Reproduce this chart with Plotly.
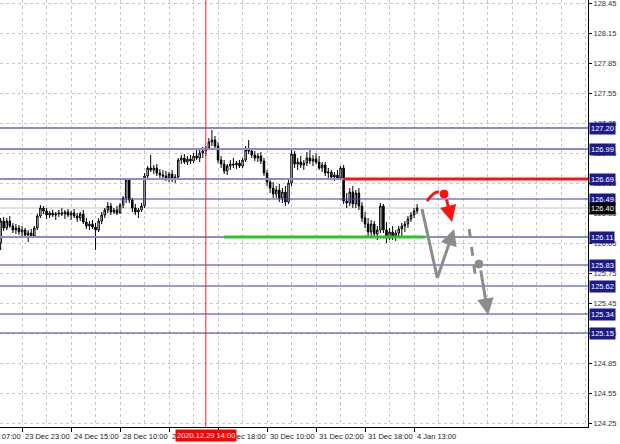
import plotly.graph_objects as go

# ---------------- data ----------------
first_bar = 9
opens = [126.05, 126.27, 126.20, 126.27, 126.22, 126.18, 126.20, 126.16, 126.18, 126.13,
         126.15, 126.12, 126.20, 126.32, 126.40, 126.37, 126.33, 126.35, 126.33, 126.34,
         126.35, 126.34, 126.36, 126.33, 126.35, 126.32, 126.30, 126.34, 126.26, 126.22,
         126.24, 126.21, 126.18, 126.27, 126.33, 126.38, 126.42, 126.36, 126.38, 126.35,
         126.43, 126.50, 126.68, 126.48, 126.40, 126.36, 126.38, 126.42, 126.72, 126.80,
         126.78, 126.80, 126.75, 126.73, 126.72, 126.70, 126.74, 126.69, 126.71, 126.88,
         126.90, 126.86, 126.89, 126.87, 126.92, 126.90, 126.95, 126.97, 127.00, 127.06,
         127.08, 127.02, 126.88, 126.84, 126.77, 126.82, 126.84, 126.83, 126.85, 126.82,
         126.88, 126.98, 126.97, 126.93, 126.90, 126.92, 126.87, 126.75, 126.66, 126.60,
         126.54, 126.58, 126.50, 126.56, 126.46, 126.65, 126.94, 126.84, 126.86, 126.83,
         126.85, 126.90, 126.87, 126.89, 126.86, 126.80, 126.83, 126.75, 126.76, 126.71,
         126.73, 126.70, 126.80, 126.47, 126.45, 126.56, 126.44, 126.55, 126.42, 126.30,
         126.24, 126.16, 126.24, 126.14, 126.18, 126.42, 126.18, 126.10, 126.16, 126.12,
         126.15, 126.19, 126.22, 126.24, 126.29, 126.33, 126.37]
highs = [126.30, 126.31, 126.30, 126.32, 126.25, 126.24, 126.23, 126.22, 126.20, 126.18,
         126.19, 126.22, 126.34, 126.43, 126.42, 126.40, 126.37, 126.38, 126.36, 126.38,
         126.40, 126.38, 126.39, 126.37, 126.39, 126.35, 126.36, 126.38, 126.30, 126.27,
         126.28, 126.25, 126.30, 126.36, 126.40, 126.46, 126.45, 126.40, 126.42, 126.45,
         126.52, 126.70, 126.70, 126.50, 126.44, 126.40, 126.45, 126.75, 126.82, 126.93,
         126.83, 126.84, 126.79, 126.78, 126.77, 126.76, 126.78, 126.74, 126.90, 126.93,
         126.94, 126.92, 126.93, 126.95, 127.00, 126.98, 127.01, 127.02, 127.10, 127.18,
         127.12, 127.06, 126.92, 126.88, 126.84, 126.88, 126.90, 126.87, 126.88, 126.90,
         127.02, 127.08, 127.00, 126.97, 126.95, 126.96, 126.90, 126.78, 126.70, 126.66,
         126.62, 126.64, 126.60, 126.62, 126.70, 126.98, 126.97, 126.90, 126.92, 126.88,
         126.96, 126.98, 126.93, 126.95, 126.92, 126.86, 126.86, 126.80, 126.78, 126.76,
         126.78, 126.82, 126.83, 126.55, 126.60, 126.62, 126.58, 126.60, 126.46, 126.36,
         126.30, 126.28, 126.27, 126.22, 126.45, 126.44, 126.26, 126.20, 126.22, 126.18,
         126.22, 126.25, 126.27, 126.32, 126.36, 126.40, 126.44]
lows = [125.98, 126.17, 126.18, 126.20, 126.15, 126.14, 126.13, 126.12, 126.10, 126.06,
        126.10, 126.10, 126.18, 126.30, 126.34, 126.29, 126.30, 126.31, 126.28, 126.31,
        126.32, 126.29, 126.31, 126.28, 126.30, 126.26, 126.27, 126.24, 126.19, 126.18,
        126.19, 125.98, 126.16, 126.24, 126.30, 126.35, 126.33, 126.34, 126.33, 126.34,
        126.40, 126.45, 126.45, 126.36, 126.33, 126.30, 126.36, 126.40, 126.70, 126.76,
        126.74, 126.72, 126.70, 126.68, 126.67, 126.66, 126.66, 126.65, 126.70, 126.84,
        126.84, 126.83, 126.84, 126.85, 126.88, 126.86, 126.90, 126.92, 126.98, 127.02,
        126.98, 126.85, 126.80, 126.74, 126.73, 126.78, 126.80, 126.79, 126.80, 126.80,
        126.86, 126.94, 126.90, 126.87, 126.86, 126.84, 126.72, 126.62, 126.55, 126.50,
        126.50, 126.46, 126.45, 126.42, 126.44, 126.62, 126.80, 126.78, 126.80, 126.78,
        126.82, 126.84, 126.82, 126.84, 126.78, 126.76, 126.72, 126.70, 126.68, 126.67,
        126.68, 126.69, 126.44, 126.40, 126.42, 126.40, 126.40, 126.38, 126.26, 126.20,
        126.12, 126.12, 126.10, 126.08, 126.15, 126.15, 126.05, 126.08, 126.08, 126.07,
        126.10, 126.12, 126.16, 126.20, 126.26, 126.30, 126.34]
closes = [126.27, 126.20, 126.27, 126.22, 126.18, 126.20, 126.16, 126.18, 126.13, 126.15,
          126.12, 126.20, 126.32, 126.40, 126.37, 126.33, 126.35, 126.33, 126.34, 126.35,
          126.34, 126.36, 126.33, 126.35, 126.32, 126.30, 126.34, 126.26, 126.22, 126.24,
          126.21, 126.18, 126.27, 126.33, 126.38, 126.42, 126.36, 126.38, 126.35, 126.43,
          126.50, 126.68, 126.48, 126.40, 126.36, 126.38, 126.42, 126.72, 126.80, 126.78,
          126.80, 126.75, 126.73, 126.72, 126.70, 126.74, 126.69, 126.71, 126.88, 126.90,
          126.86, 126.89, 126.87, 126.92, 126.90, 126.95, 126.97, 127.00, 127.06, 127.08,
          127.02, 126.88, 126.84, 126.77, 126.82, 126.84, 126.83, 126.85, 126.82, 126.88,
          126.98, 126.97, 126.93, 126.90, 126.92, 126.87, 126.75, 126.66, 126.60, 126.54,
          126.58, 126.50, 126.56, 126.46, 126.65, 126.94, 126.84, 126.86, 126.83, 126.85,
          126.90, 126.87, 126.89, 126.86, 126.80, 126.83, 126.75, 126.76, 126.71, 126.73,
          126.70, 126.80, 126.47, 126.45, 126.56, 126.44, 126.55, 126.42, 126.30, 126.24,
          126.16, 126.24, 126.14, 126.18, 126.42, 126.18, 126.10, 126.16, 126.12, 126.15,
          126.19, 126.22, 126.24, 126.29, 126.33, 126.37, 126.40]
bars = list(range(first_bar, first_bar + len(closes)))

x_tick_bars = [0, 16, 32, 48, 64, 80, 96, 112, 128, 144]
x_tick_labels = ["23 Dec 07:00", "23 Dec 23:00", "24 Dec 15:00", "28 Dec 10:00",
                 "29 Dec 02:00", "29 Dec 18:00", "30 Dec 10:00", "31 Dec 02:00",
                 "31 Dec 18:00", "4 Jan 13:00"]
y_tick_values = [124.25, 124.55, 124.85, 125.15, 125.45, 125.75, 126.05, 126.35,
                 126.65, 126.95, 127.25, 127.55, 127.85, 128.15, 128.45]
y_tick_labels = ["124.25", "124.55", "124.85", "125.15", "125.45", "125.75", "126.05",
                 "126.35", "126.65", "126.95", "127.25", "127.55", "127.85", "128.15",
                 "128.45"]

level_prices = [127.20, 126.99, 126.69, 126.49, 126.11, 125.83, 125.62, 125.34, 125.15]
level_labels = ["127.20", "126.99", "126.69", "126.49", "126.11", "125.83", "125.62",
                "125.34", "125.15"]
soft_levels = [127.20, 126.99, 126.69, 126.11]
current_price = 126.40
current_label = "126.40"

marker_bar = 76
marker_label = "2020.12.29 14:00"

resistance_price = 126.69
resistance_start = 121
support_price = 126.11
support_start = 82
support_end = 147.6

# forecast sketch (bar, price)
red_curve = [(148.2, 126.47), (150.6, 126.57), (152.1, 126.56)]
red_dot = (153.8, 126.54)
red_arrow = [(154.5, 126.50), (156.4, 126.26)]
grey_leg = [(146.6, 126.39), (151.6, 125.70)]
grey_arrow = [(151.6, 125.70), (157.1, 126.19)]
grey_dash = [(162.0, 126.19), (164.1, 125.70)]
grey_dot = (165.2, 125.84)
grey_arrow2 = [(165.7, 125.79), (168.2, 125.33)]

x_range = [8.8, 200.8]
y_range = [124.21, 128.48]

# ---------------- figure ----------------
FONT = "Liberation Sans, Arial, sans-serif"
fig = go.Figure()
fig.add_trace(go.Candlestick(
    x=bars, open=opens, high=highs, low=lows, close=closes,
    increasing=dict(line=dict(color="black", width=1), fillcolor="white"),
    decreasing=dict(line=dict(color="black", width=1), fillcolor="black"),
    whiskerwidth=0, showlegend=False, hoverinfo="skip"))

shapes = []
shapes.append(dict(type="line", xref="paper", x0=0, x1=1, yref="y",
                   y0=current_price, y1=current_price,
                   line=dict(color="#c4c4c4", width=1), layer="below"))
for p in level_prices:
    soft = p in soft_levels
    shapes.append(dict(type="line", xref="paper", x0=0, x1=1, yref="y", y0=p, y1=p,
                       line=dict(color="#8a8ad0" if soft else "#3a3aa8",
                                 width=2 if soft else 1)))
shapes.append(dict(type="line", xref="x", x0=marker_bar, x1=marker_bar, yref="paper",
                   y0=0, y1=1, line=dict(color="#ff2020", width=1)))
shapes.append(dict(type="line", xref="x", x0=resistance_start, x1=x_range[1], yref="y",
                   y0=resistance_price, y1=resistance_price,
                   line=dict(color="#ff1010", width=3)))
shapes.append(dict(type="line", xref="x", x0=support_start, x1=support_end, yref="y",
                   y0=support_price, y1=support_price,
                   line=dict(color="#2ec02e", width=3)))
(cx0, cy0), (cx1, cy1), (cx2, cy2) = red_curve
shapes.append(dict(type="path", xref="x", yref="y",
                   path=f"M {cx0},{cy0} Q {cx1},{cy1} {cx2},{cy2}",
                   line=dict(color="#ff1010", width=3)))
dxr = 1.3
dyr = 0.04
shapes.append(dict(type="circle", xref="x", yref="y",
                   x0=red_dot[0] - dxr, x1=red_dot[0] + dxr,
                   y0=red_dot[1] - dyr, y1=red_dot[1] + dyr,
                   fillcolor="#ff1010", line=dict(color="#ff1010", width=1)))
shapes.append(dict(type="circle", xref="x", yref="y",
                   x0=grey_dot[0] - dxr, x1=grey_dot[0] + dxr,
                   y0=grey_dot[1] - dyr, y1=grey_dot[1] + dyr,
                   fillcolor="#8c8c8c", line=dict(color="#8c8c8c", width=1)))
shapes.append(dict(type="line", xref="x", yref="y",
                   x0=grey_leg[0][0], y0=grey_leg[0][1], x1=grey_leg[1][0], y1=grey_leg[1][1],
                   line=dict(color="#8c8c8c", width=3)))
shapes.append(dict(type="line", xref="x", yref="y",
                   x0=grey_dash[0][0], y0=grey_dash[0][1], x1=grey_dash[1][0], y1=grey_dash[1][1],
                   line=dict(color="#8c8c8c", width=3, dash="dash")))

annotations = []
def arrow(seg, color):
    (tx, ty), (hx, hy) = seg
    return dict(x=hx, y=hy, ax=tx, ay=ty, xref="x", yref="y", axref="x", ayref="y",
                text="", showarrow=True, arrowhead=2, arrowsize=1.1, arrowwidth=3,
                arrowcolor=color)
annotations.append(arrow(red_arrow, "#ff1010"))
annotations.append(arrow(grey_arrow, "#8c8c8c"))
annotations.append(arrow(grey_arrow2, "#8c8c8c"))

span = x_range[1] - x_range[0]
for b, t in zip(x_tick_bars, x_tick_labels):
    annotations.append(dict(x=(b - x_range[0]) / span, xref="paper", y=0, yref="paper",
                            xanchor="left", yanchor="top", yshift=-3, xshift=1,
                            text=t, showarrow=False,
                            font=dict(family=FONT, size=7.5, color="#222")))
annotations.append(dict(x=marker_bar, xref="x", y=0, yref="paper", xanchor="center",
                        yanchor="top", yshift=-2, text=marker_label, showarrow=False,
                        bgcolor="#ff0000", borderpad=1,
                        font=dict(family=FONT, size=7.5, color="white")))
for p, t in zip(level_prices, level_labels):
    annotations.append(dict(x=1, xref="paper", y=p, yref="y", xanchor="left",
                            xshift=1, text=t, showarrow=False, bgcolor="#1a1a8c",
                            borderpad=1, font=dict(family=FONT, size=7.5, color="white")))
annotations.append(dict(x=1, xref="paper", y=current_price, yref="y", xanchor="left",
                        xshift=1, text=current_label, showarrow=False, bgcolor="#000000",
                        borderpad=1, font=dict(family=FONT, size=7.5, color="white")))

fig.update_layout(
    width=620, height=444,
    margin=dict(l=0, r=32, t=0, b=17, autoexpand=False),
    paper_bgcolor="white", plot_bgcolor="white",
    showlegend=False,
    shapes=shapes, annotations=annotations,
    xaxis=dict(range=x_range, rangeslider=dict(visible=False),
               tickmode="array", tickvals=x_tick_bars, showticklabels=False,
               ticks="outside", ticklen=4, tickcolor="black",
               showgrid=True, gridcolor="#c8c8c8", griddash="dot", gridwidth=1,
               minor=dict(dtick=8, tick0=0, showgrid=True, gridcolor="#c8c8c8",
                          griddash="dot", ticks=""),
               showline=True, linecolor="black", linewidth=1, zeroline=False,
               fixedrange=True),
    yaxis=dict(range=y_range, side="right", tickmode="array",
               tickvals=y_tick_values, ticktext=y_tick_labels,
               ticks="outside", ticklen=3, tickcolor="black",
               ticklabeloverflow="allow",
               tickfont=dict(family=FONT, size=7.5, color="#333"),
               showgrid=True, gridcolor="#c8c8c8", griddash="dot", gridwidth=1,
               showline=True, linecolor="black", linewidth=1, zeroline=False,
               fixedrange=True),
)
fig.write_html("out.html", config={"displayModeBar": False},
               post_script="document.body.style.margin='0';document.body.style.overflow='hidden';")
